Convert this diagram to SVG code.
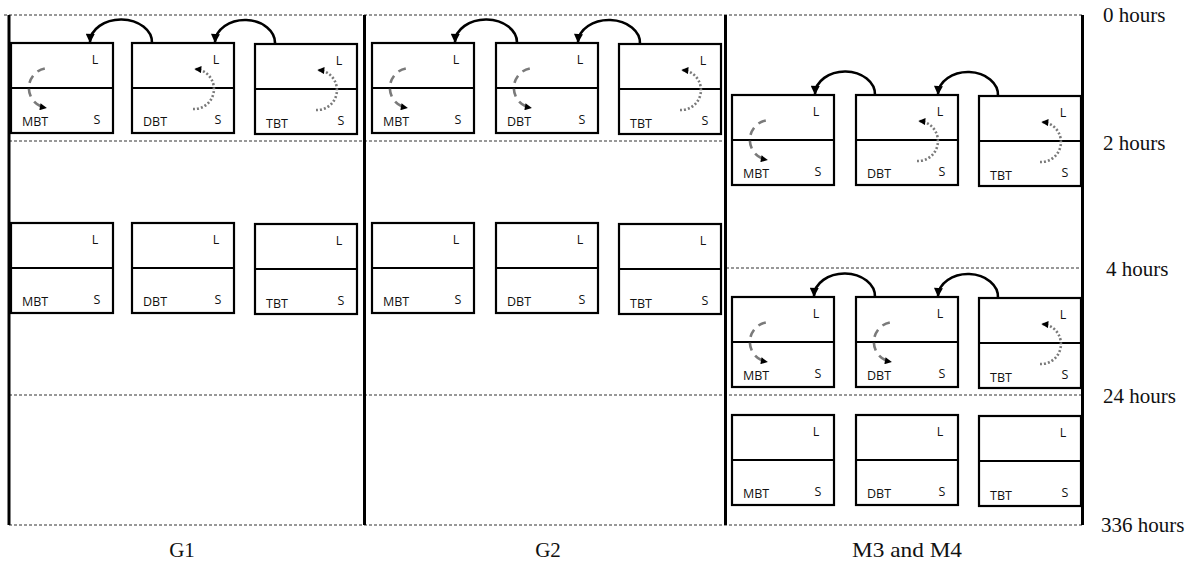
<svg xmlns="http://www.w3.org/2000/svg" width="1202" height="568" viewBox="0 0 1202 568">
<style>
.box rect{fill:#fff;stroke:#000;stroke-width:2.2}
.box line{stroke:#000;stroke-width:2.2}
.lab{font-family:"Open Sans","Liberation Sans",sans-serif;font-size:12.5px;fill:#111}
.mid{text-anchor:middle}
.loopdash{fill:none;stroke:#7a7a7a;stroke-width:2.6;stroke-dasharray:8 6;marker-end:url(#sm)}
.loopdot{fill:none;stroke:#7a7a7a;stroke-width:2.6;stroke-dasharray:2 2;marker-end:url(#sm)}
.conn{fill:none;stroke:#000;stroke-width:2.6;marker-end:url(#big)}
.frame{stroke:#000;stroke-width:3}
.grid{stroke:#333;stroke-width:1.2;stroke-dasharray:3 2}
.t{font-family:"Liberation Serif","Times New Roman",serif;font-size:21px;fill:#111}
</style>
<defs>
<marker id="big" viewBox="0 0 10 10" refX="9" refY="5" markerWidth="10" markerHeight="9" markerUnits="userSpaceOnUse" orient="auto"><path d="M0,0 L10,5 L0,10 z" fill="#000"/></marker>
<marker id="sm" viewBox="0 0 10 10" refX="8" refY="5" markerWidth="8" markerHeight="7" markerUnits="userSpaceOnUse" orient="auto"><path d="M0,0 L10,5 L0,10 z" fill="#000"/></marker>
</defs>
<rect width="1202" height="568" fill="#fff"/>

<g id="grid">
<line class="grid" x1="4" y1="15" x2="1083" y2="15"/>
<line class="grid" x1="9" y1="141" x2="726" y2="141"/>
<line class="grid" x1="726" y1="268" x2="1083" y2="268"/>
<line class="grid" x1="9" y1="395" x2="1083" y2="395"/>
<line class="grid" x1="9" y1="525" x2="1083" y2="525"/>
</g>

<!-- G1 -->
<g id="g1-0-mbt" class="box" transform="translate(11,43)"><rect width="102" height="90"/><line x1="0" y1="45" x2="102" y2="45"/><text class="lab mid" x="84" y="21">L</text><text class="lab mid" x="86" y="81">S</text><text class="lab" x="11" y="83">MBT</text><path class="loopdash" d="M33.8,25.4 A20,20 0 0 0 34.5,64.7"/></g>
<g id="g1-0-dbt" class="box" transform="translate(132,43)"><rect width="102" height="90"/><line x1="0" y1="45" x2="102" y2="45"/><text class="lab mid" x="84" y="21">L</text><text class="lab mid" x="86" y="81">S</text><text class="lab" x="11" y="83">DBT</text><path class="loopdot" d="M61,66 A20,20 0 0 0 63.7,26.1"/></g>
<g id="g1-0-tbt" class="box" transform="translate(255,44)"><rect width="102" height="90"/><line x1="0" y1="45" x2="102" y2="45"/><text class="lab mid" x="84" y="21">L</text><text class="lab mid" x="86" y="81">S</text><text class="lab" x="11" y="84">TBT</text><path class="loopdot" d="M61,66 A20,20 0 0 0 63.7,26.1"/></g>
<g id="g1-4-mbt" class="box" transform="translate(11,223)"><rect width="102" height="90"/><line x1="0" y1="45" x2="102" y2="45"/><text class="lab mid" x="84" y="21">L</text><text class="lab mid" x="86" y="81">S</text><text class="lab" x="11" y="83">MBT</text></g>
<g id="g1-4-dbt" class="box" transform="translate(132,223)"><rect width="102" height="90"/><line x1="0" y1="45" x2="102" y2="45"/><text class="lab mid" x="84" y="21">L</text><text class="lab mid" x="86" y="81">S</text><text class="lab" x="11" y="83">DBT</text></g>
<g id="g1-4-tbt" class="box" transform="translate(255,224)"><rect width="102" height="90"/><line x1="0" y1="45" x2="102" y2="45"/><text class="lab mid" x="84" y="21">L</text><text class="lab mid" x="86" y="81">S</text><text class="lab" x="11" y="84">TBT</text></g>

<!-- G2 -->
<g id="g2-0-mbt" class="box" transform="translate(372,43)"><rect width="102" height="90"/><line x1="0" y1="45" x2="102" y2="45"/><text class="lab mid" x="84" y="21">L</text><text class="lab mid" x="86" y="81">S</text><text class="lab" x="11" y="83">MBT</text><path class="loopdash" d="M33.8,25.4 A20,20 0 0 0 34.5,64.7"/></g>
<g id="g2-0-dbt" class="box" transform="translate(496,43)"><rect width="102" height="90"/><line x1="0" y1="45" x2="102" y2="45"/><text class="lab mid" x="84" y="21">L</text><text class="lab mid" x="86" y="81">S</text><text class="lab" x="11" y="83">DBT</text><path class="loopdash" d="M33.8,25.4 A20,20 0 0 0 34.5,64.7"/></g>
<g id="g2-0-tbt" class="box" transform="translate(619,44)"><rect width="102" height="90"/><line x1="0" y1="45" x2="102" y2="45"/><text class="lab mid" x="84" y="21">L</text><text class="lab mid" x="86" y="81">S</text><text class="lab" x="11" y="84">TBT</text><path class="loopdot" d="M61,66 A20,20 0 0 0 63.7,26.1"/></g>
<g id="g2-4-mbt" class="box" transform="translate(372,223)"><rect width="102" height="90"/><line x1="0" y1="45" x2="102" y2="45"/><text class="lab mid" x="84" y="21">L</text><text class="lab mid" x="86" y="81">S</text><text class="lab" x="11" y="83">MBT</text></g>
<g id="g2-4-dbt" class="box" transform="translate(496,223)"><rect width="102" height="90"/><line x1="0" y1="45" x2="102" y2="45"/><text class="lab mid" x="84" y="21">L</text><text class="lab mid" x="86" y="81">S</text><text class="lab" x="11" y="83">DBT</text></g>
<g id="g2-4-tbt" class="box" transform="translate(619,224)"><rect width="102" height="90"/><line x1="0" y1="45" x2="102" y2="45"/><text class="lab mid" x="84" y="21">L</text><text class="lab mid" x="86" y="81">S</text><text class="lab" x="11" y="84">TBT</text></g>

<!-- M3 and M4 -->
<g id="m-2-mbt" class="box" transform="translate(732,95)"><rect width="102" height="90"/><line x1="0" y1="45" x2="102" y2="45"/><text class="lab mid" x="84" y="21">L</text><text class="lab mid" x="86" y="81">S</text><text class="lab" x="11" y="83">MBT</text><path class="loopdash" d="M33.8,25.4 A20,20 0 0 0 34.5,64.7"/></g>
<g id="m-2-dbt" class="box" transform="translate(856,95)"><rect width="102" height="90"/><line x1="0" y1="45" x2="102" y2="45"/><text class="lab mid" x="84" y="21">L</text><text class="lab mid" x="86" y="81">S</text><text class="lab" x="11" y="83">DBT</text><path class="loopdot" d="M61,66 A20,20 0 0 0 63.7,26.1"/></g>
<g id="m-2-tbt" class="box" transform="translate(979,96)"><rect width="102" height="90"/><line x1="0" y1="45" x2="102" y2="45"/><text class="lab mid" x="84" y="21">L</text><text class="lab mid" x="86" y="81">S</text><text class="lab" x="11" y="84">TBT</text><path class="loopdot" d="M61,66 A20,20 0 0 0 63.7,26.1"/></g>
<g id="m-4-mbt" class="box" transform="translate(732,297)"><rect width="102" height="90"/><line x1="0" y1="45" x2="102" y2="45"/><text class="lab mid" x="84" y="21">L</text><text class="lab mid" x="86" y="81">S</text><text class="lab" x="11" y="83">MBT</text><path class="loopdash" d="M33.8,25.4 A20,20 0 0 0 34.5,64.7"/></g>
<g id="m-4-dbt" class="box" transform="translate(856,297)"><rect width="102" height="90"/><line x1="0" y1="45" x2="102" y2="45"/><text class="lab mid" x="84" y="21">L</text><text class="lab mid" x="86" y="81">S</text><text class="lab" x="11" y="83">DBT</text><path class="loopdash" d="M33.8,25.4 A20,20 0 0 0 34.5,64.7"/></g>
<g id="m-4-tbt" class="box" transform="translate(979,298)"><rect width="102" height="90"/><line x1="0" y1="45" x2="102" y2="45"/><text class="lab mid" x="84" y="21">L</text><text class="lab mid" x="86" y="81">S</text><text class="lab" x="11" y="84">TBT</text><path class="loopdot" d="M61,66 A20,20 0 0 0 63.7,26.1"/></g>
<g id="m-24-mbt" class="box" transform="translate(732,415)"><rect width="102" height="90"/><line x1="0" y1="45" x2="102" y2="45"/><text class="lab mid" x="84" y="21">L</text><text class="lab mid" x="86" y="81">S</text><text class="lab" x="11" y="83">MBT</text></g>
<g id="m-24-dbt" class="box" transform="translate(856,415)"><rect width="102" height="90"/><line x1="0" y1="45" x2="102" y2="45"/><text class="lab mid" x="84" y="21">L</text><text class="lab mid" x="86" y="81">S</text><text class="lab" x="11" y="83">DBT</text></g>
<g id="m-24-tbt" class="box" transform="translate(979,416)"><rect width="102" height="90"/><line x1="0" y1="45" x2="102" y2="45"/><text class="lab mid" x="84" y="21">L</text><text class="lab mid" x="86" y="81">S</text><text class="lab" x="11" y="84">TBT</text></g>

<g id="connectors">
<path class="conn" d="M152,43 A31,23 0 0 0 90,42"/>
<path class="conn" d="M275,44 A30,23 0 0 0 215,42"/>
<path class="conn" d="M517,43 A31,23 0 0 0 455,42"/>
<path class="conn" d="M640,44 A31,23 0 0 0 578,42"/>
<path class="conn" d="M875,95 A30,23 0 0 0 815,94"/>
<path class="conn" d="M998,96 A30,23 0 0 0 938,94"/>
<path class="conn" d="M875,297 A30.5,23 0 0 0 814,296"/>
<path class="conn" d="M998,298 A30,23 0 0 0 938,296"/>
</g>

<g id="frame">
<line class="frame" x1="9" y1="15" x2="9" y2="525"/>
<line class="frame" x1="364.5" y1="15" x2="364.5" y2="525"/>
<line class="frame" x1="725.5" y1="15" x2="725.5" y2="525"/>
<line class="frame" x1="1082.5" y1="15" x2="1082.5" y2="525"/>
</g>

<g id="axis">
<text class="t" x="1103" y="22">0 hours</text>
<text class="t" x="1103" y="150">2 hours</text>
<text class="t" x="1106" y="276">4 hours</text>
<text class="t" x="1103" y="403">24 hours</text>
<text class="t" x="1101" y="532">336 hours</text>
<text class="t" x="182" y="557" text-anchor="middle">G1</text>
<text class="t" x="548" y="557" text-anchor="middle">G2</text>
<text class="t" x="907" y="557" text-anchor="middle" textLength="110" lengthAdjust="spacingAndGlyphs">M3 and M4</text>
</g>
</svg>
